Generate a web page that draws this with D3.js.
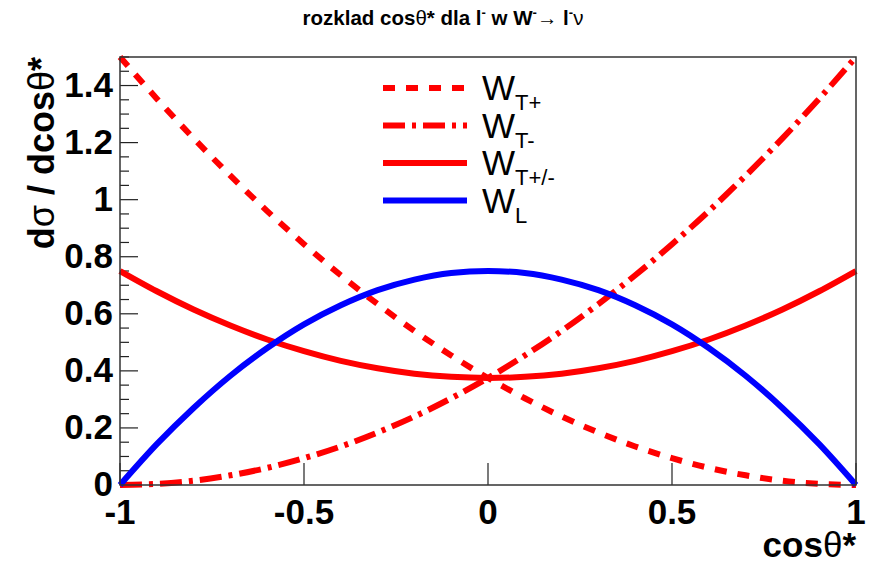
<!DOCTYPE html>
<html>
<head>
<meta charset="utf-8">
<script src="https://cdn.jsdelivr.net/npm/d3@7"></script>
<style>
  body { margin: 0; background: #fff; }
  text { font-family: "Liberation Sans", Arial, Helvetica, sans-serif; }
</style>
</head>
<body>
<div id="chart"></div>
<script>
// cos theta* sample points
const cosTheta = [-1, -0.9, -0.8, -0.7, -0.6, -0.5, -0.4, -0.3, -0.2, -0.1, 0,
                  0.1, 0.2, 0.3, 0.4, 0.5, 0.6, 0.7, 0.8, 0.9, 1];
// values
const wTplus  = [1.5, 1.354, 1.215, 1.084, 0.96, 0.844, 0.735, 0.634, 0.54, 0.454, 0.375,
                 0.304, 0.24, 0.184, 0.135, 0.094, 0.06, 0.034, 0.015, 0.004, 0];
const wTminus = [0, 0.004, 0.015, 0.034, 0.06, 0.094, 0.135, 0.184, 0.24, 0.304, 0.375,
                 0.454, 0.54, 0.634, 0.735, 0.844, 0.96, 1.084, 1.215, 1.354, 1.5];
const wTboth  = [0.75, 0.679, 0.615, 0.559, 0.51, 0.469, 0.435, 0.409, 0.39, 0.379, 0.375,
                 0.379, 0.39, 0.409, 0.435, 0.469, 0.51, 0.559, 0.615, 0.679, 0.75];
const wL      = [0, 0.143, 0.27, 0.383, 0.48, 0.563, 0.63, 0.683, 0.72, 0.743, 0.75,
                 0.743, 0.72, 0.683, 0.63, 0.563, 0.48, 0.383, 0.27, 0.143, 0];

const xTicks = [-1, -0.5, 0, 0.5, 1];
const yTicks = [0, 0.2, 0.4, 0.6, 0.8, 1, 1.2, 1.4];
const seriesNames = ["T+", "T-", "T+/-", "L"];

const width = 870, height = 562;
const frameL = 120, frameR = 856, frameT = 57, frameB = 485;

const svg = d3.select("#chart").append("svg")
    .attr("width", width)
    .attr("height", height);

const x = d3.scaleLinear().domain([-1, 1]).range([frameL, frameR]);
const y = d3.scaleLinear().domain([0, 1.5]).range([frameB, frameT]);

// title
const title = svg.append("text")
    .attr("x", 443).attr("y", 25)
    .attr("text-anchor", "middle")
    .style("font-size", "20.5px").style("font-weight", "bold");
title.append("tspan").text("rozklad cos");
title.append("tspan").style("font-weight", "normal").text("θ");
title.append("tspan").text("* dla l");
title.append("tspan").attr("dy", -8).style("font-size", "13px").text("-");
title.append("tspan").attr("dy", 8).text(" w W");
title.append("tspan").attr("dy", -8).style("font-size", "13px").text("-");
title.append("tspan").attr("dy", 8).style("font-weight", "normal").text("→ ");
title.append("tspan").text("l");
title.append("tspan").attr("dy", -8).style("font-size", "13px").text("-");
title.append("tspan").attr("dy", 8).style("font-weight", "normal").text("ν");

// y axis ticks (inward)
const yMinor = d3.range(0, 1.5001, 0.05);
svg.append("g").selectAll("line")
    .data(yMinor)
    .join("line")
    .attr("x1", frameL)
    .attr("x2", d => (Math.abs(d / 0.2 - Math.round(d / 0.2)) < 1e-6) ? frameL + 18 : frameL + 9)
    .attr("y1", d => y(d)).attr("y2", d => y(d))
    .attr("stroke", "#222").attr("stroke-width", 1.2);

svg.append("g").selectAll("text")
    .data(yTicks)
    .join("text")
    .attr("x", 113)
    .attr("y", d => y(d) + 11)
    .attr("text-anchor", "end")
    .style("font-size", "35px").style("font-weight", "bold")
    .text(d => String(d));

// x axis ticks (inward)
svg.append("g").selectAll("line")
    .data(xTicks)
    .join("line")
    .attr("x1", d => x(d)).attr("x2", d => x(d))
    .attr("y1", frameB).attr("y2", frameB - 22)
    .attr("stroke", "#222").attr("stroke-width", 1.2);

svg.append("g").selectAll("text")
    .data(xTicks)
    .join("text")
    .attr("x", d => x(d))
    .attr("y", 524)
    .attr("text-anchor", "middle")
    .style("font-size", "35px").style("font-weight", "bold")
    .text(d => String(d));

// axis titles
const xt = svg.append("text")
    .attr("x", frameR).attr("y", 557)
    .attr("text-anchor", "end")
    .style("font-size", "35px").style("font-weight", "bold");
xt.append("tspan").text("cos");
xt.append("tspan").style("font-weight", "normal").text("θ");
xt.append("tspan").text("*");

const yt = svg.append("text")
    .attr("transform", `translate(54, ${frameT}) rotate(-90)`)
    .attr("text-anchor", "end")
    .style("font-size", "36px").style("font-weight", "bold");
yt.append("tspan").text("d");
yt.append("tspan").style("font-weight", "normal").text("σ");
yt.append("tspan").text(" / dcos");
yt.append("tspan").style("font-weight", "normal").text("θ");
yt.append("tspan").text("*");

// curves
const line = d3.line()
    .x(d => x(d[0]))
    .y(d => y(d[1]))
    .curve(d3.curveMonotoneX);

const series = [
  { values: wTplus,  color: "#ff0000", dash: "12 11" },
  { values: wTminus, color: "#ff0000", dash: "22 7 4 7" },
  { values: wTboth,  color: "#ff0000", dash: null },
  { values: wL,      color: "#0000ff", dash: null }
];

const plot = svg.append("g");
series.forEach(s => {
  plot.append("path")
      .datum(cosTheta.map((c, i) => [c, s.values[i]]))
      .attr("d", line)
      .attr("fill", "none")
      .attr("stroke", s.color)
      .attr("stroke-width", 6)
      .attr("stroke-dasharray", s.dash);
});

// frame
svg.append("rect")
    .attr("x", frameL).attr("y", frameT)
    .attr("width", frameR - frameL).attr("height", frameB - frameT)
    .attr("fill", "none")
    .attr("stroke", "#333").attr("stroke-width", 1.5);

// legend
const legend = svg.append("g");
series.forEach((s, i) => {
  const ly = 88 + i * 37.5;
  legend.append("line")
      .attr("x1", 383).attr("x2", 467)
      .attr("y1", ly).attr("y2", ly)
      .attr("stroke", s.color)
      .attr("stroke-width", 6)
      .attr("stroke-dasharray", s.dash);
  const t = legend.append("text")
      .attr("x", 482).attr("y", ly + 12)
      .style("font-size", "35px");
  t.append("tspan").text("W");
  t.append("tspan").attr("dy", 10).style("font-size", "22px").text(seriesNames[i]);
});
</script>
</body>
</html>
